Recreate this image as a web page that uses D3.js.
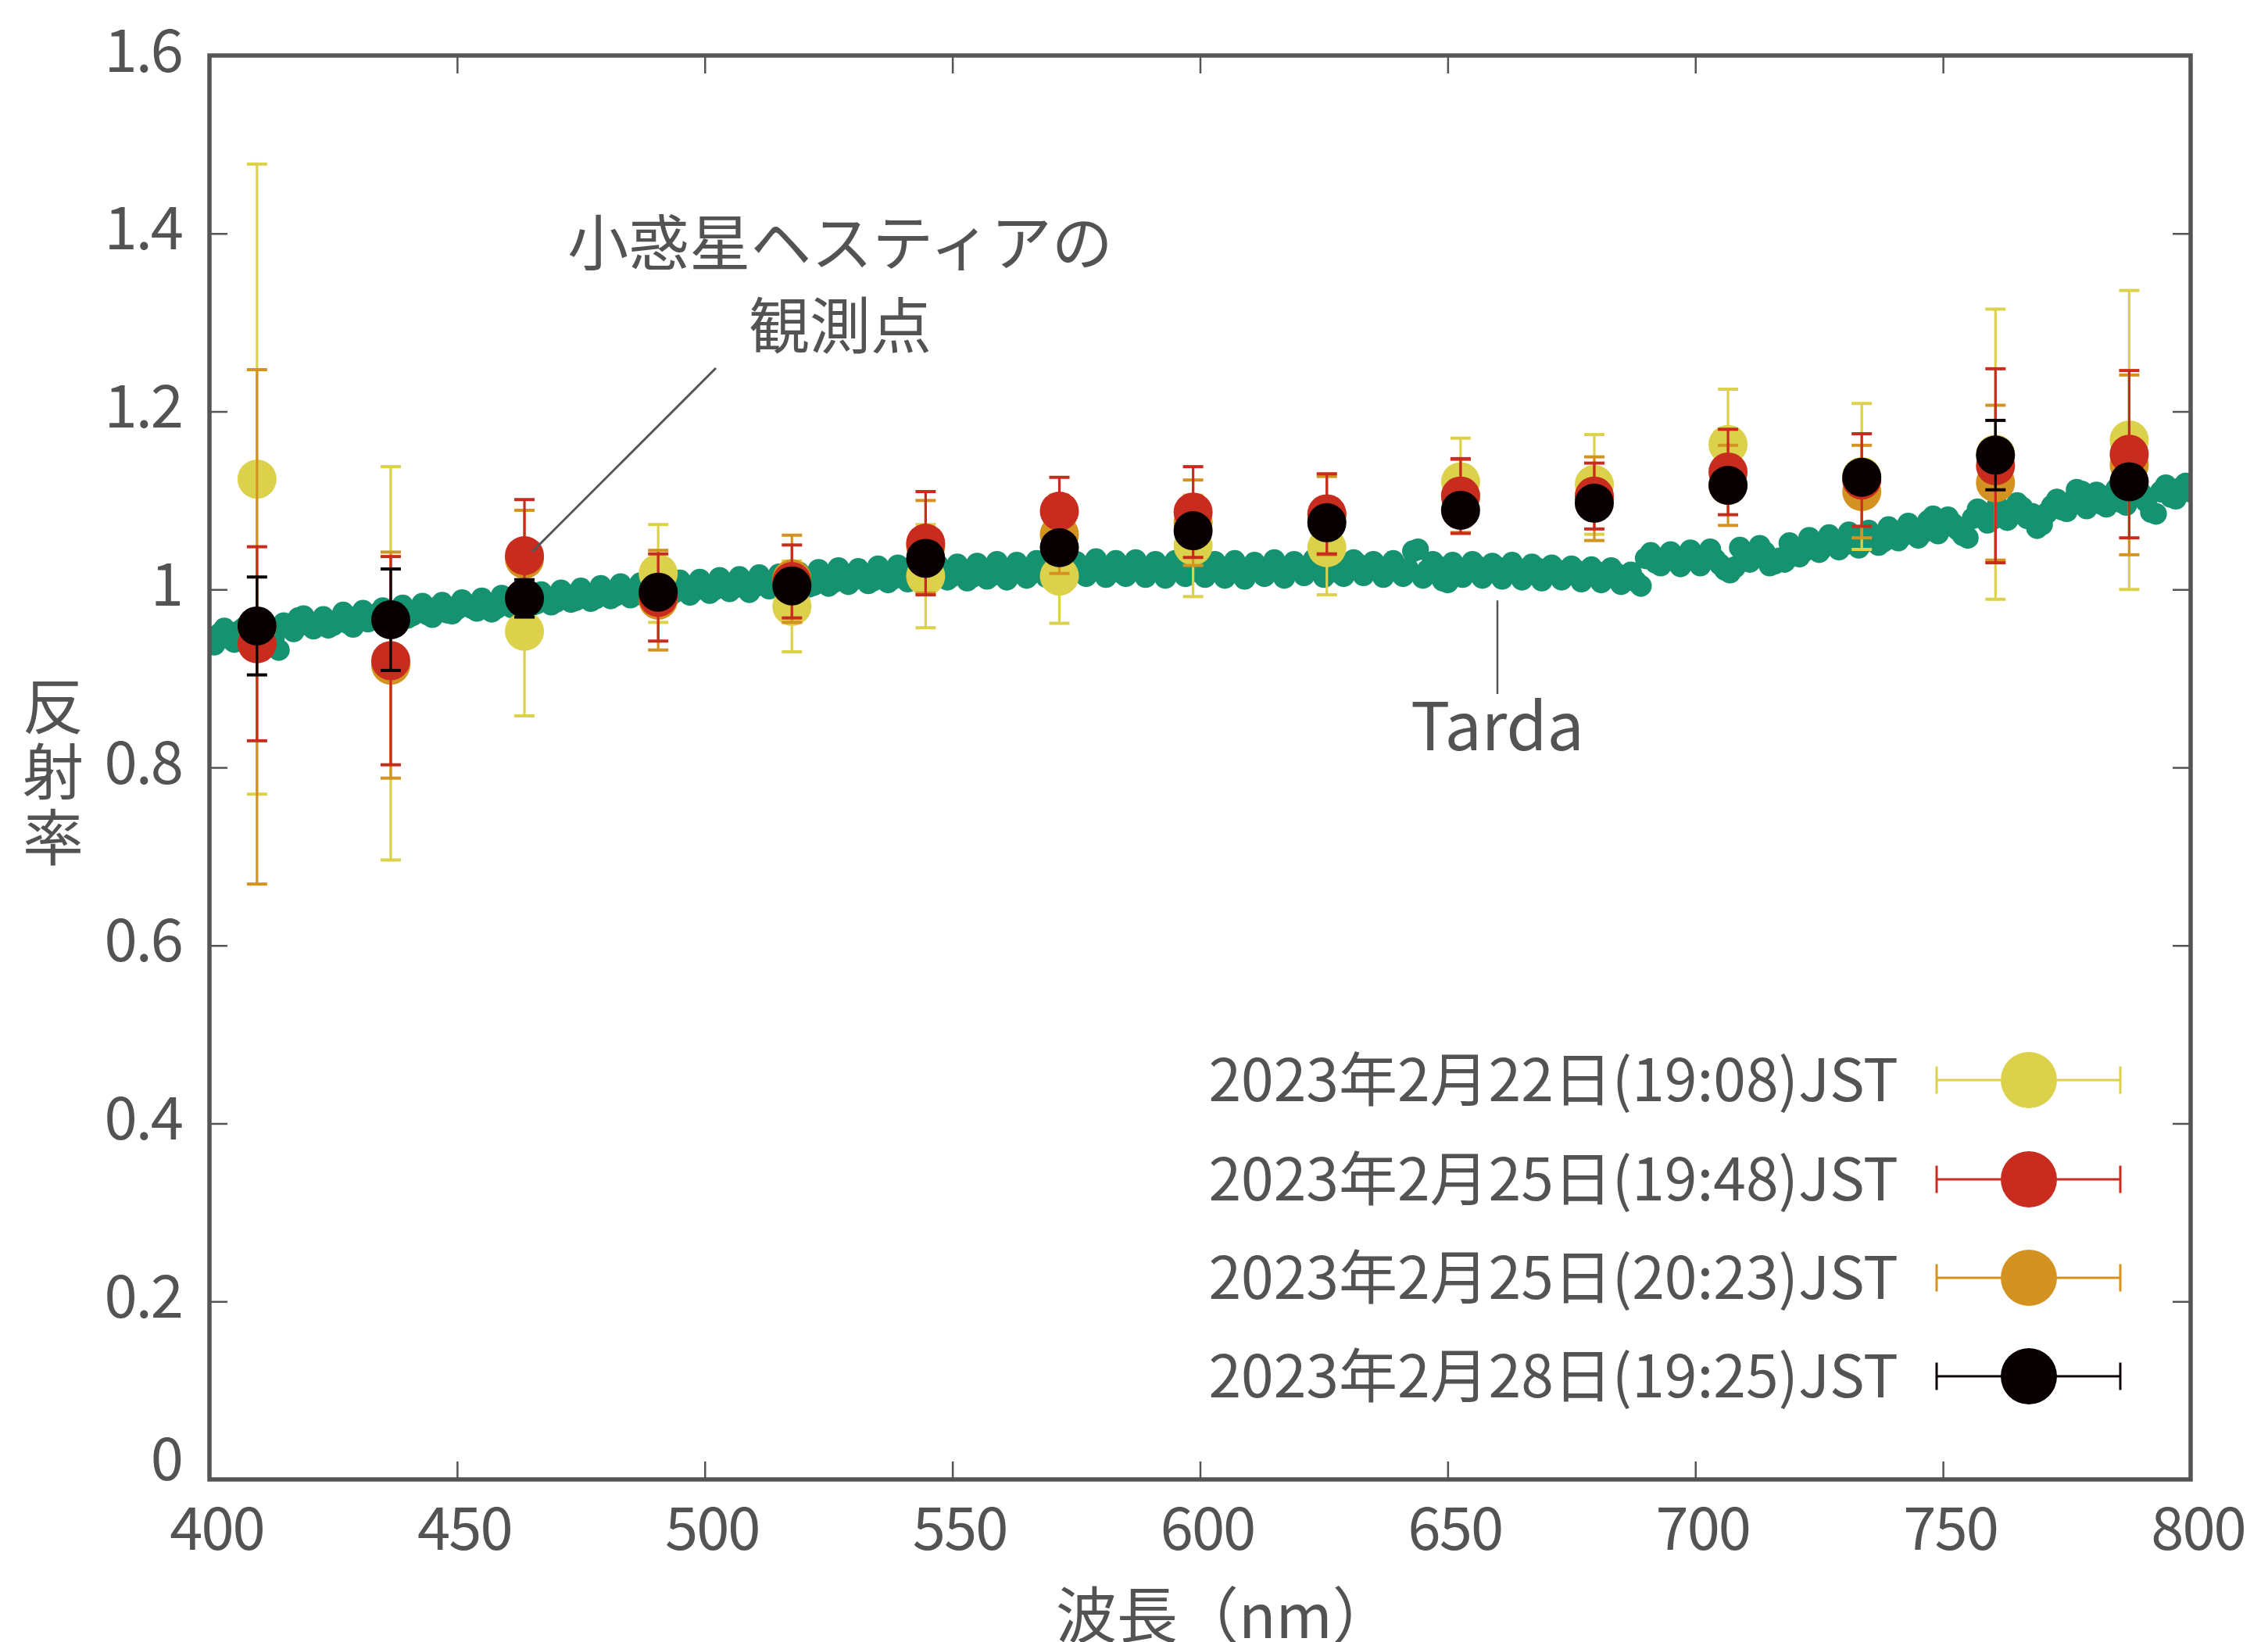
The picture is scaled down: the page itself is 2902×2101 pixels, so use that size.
<!DOCTYPE html>
<html><head><meta charset="utf-8">
<script src="https://cdn.jsdelivr.net/npm/d3@7"></script>
<style>
html,body{margin:0;padding:0;background:#fff;}
svg text{font-family:"Noto Sans CJK JP","Noto Sans",sans-serif;fill:#535353;}
</style></head>
<body><svg id="c" width="2902" height="2101"></svg>
<script>
// ---- data ----
const wavelengths = [409.6,436.6,463.6,490.6,517.6,544.6,571.6,598.6,625.6,652.6,679.6,706.6,733.6,760.6,787.6];
const seriesLabels = ["2023年2月22日(19:08)JST","2023年2月25日(19:48)JST","2023年2月25日(20:23)JST","2023年2月28日(19:25)JST"];
const seriesColors = ["#dcd14a","#c82c1e","#d49320","#080000"];
const vals0222 = [1.124,0.917,0.953,1.018,0.981,1.015,1.015,1.049,1.047,1.121,1.118,1.163,1.127,1.152,1.168];
const err0222  = [0.354,0.221,0.095,0.055,0.051,0.058,0.053,0.057,0.053,0.049,0.056,0.062,0.082,0.163,0.168];
const vals0225a = [0.939,0.920,1.038,0.991,1.009,1.052,1.088,1.087,1.085,1.105,1.105,1.132,1.123,1.139,1.152];
const err0225a  = [0.109,0.117,0.063,0.049,0.041,0.058,0.038,0.051,0.045,0.042,0.037,0.048,0.052,0.109,0.094];
const vals0225b = [0.958,0.915,1.034,0.988,1.012,1.048,1.062,1.075,1.083,1.105,1.102,1.117,1.110,1.120,1.140];
const err0225b  = [0.289,0.127,0.055,0.056,0.049,0.052,0.044,0.048,0.044,0.041,0.047,0.045,0.052,0.087,0.101];
const vals0228 = [0.959,0.966,0.990,0.997,1.004,1.035,1.047,1.066,1.075,1.089,1.097,1.117,1.126,1.151,1.121];
const err0228  = [0.055,0.057,0.021,0.015,0.015,0.015,0.015,0.015,0.015,0.015,0.015,0.015,0.015,0.039,0.015];
// Tarda reference spectrum: even wavelengths 400..800 nm
const tardaEvenStart = 400, tardaStep = 2;
const tardaEven = [
0.942,0.950,0.945,0.953,0.948,0.955,0.951,0.932,0.958,0.968,0.960,0.963,0.957,0.966,0.962,0.970,0.964,0.973,0.969,0.975,0.968,0.977,0.972,0.980,0.974,0.978,
0.983,0.976,0.985,0.979,0.987,0.982,0.989,0.984,0.991,0.986,0.994,0.988,0.995,0.990,0.997,0.993,1.000,0.994,0.999,0.996,1.003,0.997,1.002,0.999,1.005,
1.000,1.007,1.002,1.008,1.003,1.009,1.004,1.010,1.006,1.011,1.005,1.014,1.008,1.017,1.011,1.016,1.010,1.018,1.012,1.019,1.013,1.018,1.014,1.020,1.015,
1.021,1.014,1.019,1.016,1.022,1.017,1.023,1.018,1.021,1.025,1.019,1.024,1.020,1.027,1.021,1.025,1.019,1.026,1.022,1.024,1.020,1.026,1.021,1.023,1.019,
1.024,1.020,1.025,1.018,1.023,1.021,1.026,1.020,1.025,1.022,1.027,1.021,1.025,1.019,1.024,1.028,1.022,1.026,1.021,1.025,1.023,1.045,1.022,1.026,1.008,
1.024,1.020,1.026,1.022,1.025,1.019,1.023,1.020,1.024,1.018,1.022,1.017,1.021,1.016,1.020,1.015,1.018,1.012,1.009,1.035,1.030,1.036,1.032,1.038,1.033,
1.037,1.034,1.022,1.025,1.040,1.036,1.042,1.029,1.031,1.046,1.043,1.052,1.048,1.055,1.050,1.057,1.053,1.060,1.054,1.066,1.061,1.068,1.064,1.082,1.070,
1.074,1.061,1.080,1.086,1.079,1.088,1.084,1.092,1.085,1.073,1.094,1.090,1.099,1.110,1.101,1.096,1.106,1.098,1.104,1.108,1.087,1.110,1.104,1.114,1.110
];
// Tarda reference spectrum: odd wavelengths 401..799 nm
const tardaOddStart = 401;
const tardaOdd = [
0.938,0.956,0.941,0.957,0.944,0.960,0.946,0.962,0.953,0.970,0.956,0.969,0.960,0.974,0.958,0.976,0.966,0.979,0.964,0.982,0.971,0.984,0.969,0.985,0.973,
0.988,0.979,0.990,0.975,0.993,0.980,0.995,0.982,0.997,0.983,0.999,0.986,1.001,0.987,1.004,0.990,1.006,0.991,1.007,0.990,1.009,0.993,1.010,0.994,1.011,
0.996,1.013,0.998,1.014,0.997,1.016,1.001,1.017,1.000,1.019,1.003,1.022,1.004,1.024,1.006,1.023,1.007,1.026,1.008,1.027,1.009,1.026,1.010,1.028,1.011,
1.028,1.010,1.029,1.012,1.031,1.011,1.030,1.013,1.032,1.014,1.033,1.012,1.031,1.015,1.034,1.014,1.032,1.015,1.033,1.014,1.031,1.013,1.032,1.015,1.030,
1.014,1.031,1.013,1.032,1.012,1.030,1.015,1.033,1.013,1.031,1.016,1.034,1.014,1.032,1.015,1.033,1.016,1.031,1.014,1.032,1.015,1.043,1.013,1.031,1.010,
1.030,1.014,1.031,1.013,1.029,1.012,1.030,1.011,1.028,1.010,1.027,1.011,1.026,1.009,1.025,1.008,1.024,1.006,1.019,1.004,1.041,1.027,1.042,1.026,1.044,
1.027,1.045,1.028,1.019,1.047,1.031,1.049,1.027,1.035,1.052,1.037,1.058,1.042,1.061,1.045,1.064,1.047,1.066,1.050,1.070,1.055,1.074,1.058,1.077,1.063,
1.081,1.067,1.058,1.090,1.075,1.094,1.078,1.097,1.080,1.069,1.086,1.101,1.088,1.112,1.091,1.109,1.093,1.113,1.095,1.116,1.099,1.085,1.117,1.102,1.119
];
const xTicks = [400,450,500,550,600,650,700,750,800];
const yTicks = [0,0.2,0.4,0.6,0.8,1,1.2,1.4,1.6];
const xTitle = "波長（nm）";
const yTitle = ["反","射","率"];
const noteHestia = ["小惑星ヘスティアの","観測点"];
const noteTarda = "Tarda";

// ---- layout ----
const svg = d3.select("#c");
const L=268,R=2803,T=71,B=1893;
const x = d3.scaleLinear().domain([400,800]).range([L,R]);
const y = d3.scaleLinear().domain([0,1.6]).range([B,T]);
const axisColor = "#555555";
const fs = 76;

svg.append("defs").append("clipPath").attr("id","plotclip")
  .append("rect").attr("x",L).attr("y",T).attr("width",R-L).attr("height",B-T);

// Tarda
const tarda = tardaEven.map((v,i)=>({w: tardaEvenStart + i*tardaStep, v}))
  .concat(tardaOdd.map((v,i)=>({w: tardaOddStart + i*tardaStep, v})))
  .sort((a,b)=>a.w-b.w);
svg.append("g").attr("clip-path","url(#plotclip)")
  .selectAll("circle").data(tarda).join("circle")
  .attr("cx",d=>x(d.w)).attr("cy",d=>y(d.v)).attr("r",14).attr("fill","#15926f");

// Tarda leader
svg.append("line").attr("x1",1916).attr("x2",1916).attr("y1",y(1.0)+14).attr("y2",888)
  .attr("stroke",axisColor).attr("stroke-width",2.5);
svg.append("text").attr("x",1916).attr("y",960).attr("text-anchor","middle")
  .style("font-size","84px").text(noteTarda);

// series (drawing order: 2/22, 2/25 20:23, 2/25 19:48, 2/28)
const series = [
  {vals: vals0222, err: err0222, color: seriesColors[0]},
  {vals: vals0225b, err: err0225b, color: seriesColors[2]},
  {vals: vals0225a, err: err0225a, color: seriesColors[1]},
  {vals: vals0228, err: err0228, color: seriesColors[3]}
];
const capW = 13, mr = 25;
series.forEach(s=>{
  const pts = wavelengths.map((w,i)=>({w, v:s.vals[i], e:s.err[i]}));
  const g = svg.append("g");
  g.selectAll("line.v").data(pts).join("line").attr("class","v")
    .attr("x1",d=>x(d.w)).attr("x2",d=>x(d.w)).attr("y1",d=>y(d.v+d.e)).attr("y2",d=>y(d.v-d.e))
    .attr("stroke",s.color).attr("stroke-width",3.2);
  ["t","b"].forEach(sg=>{
    g.selectAll("line.c"+sg).data(pts).join("line").attr("class","c"+sg)
      .attr("x1",d=>x(d.w)-capW).attr("x2",d=>x(d.w)+capW)
      .attr("y1",d=>y(sg==="t"?d.v+d.e:d.v-d.e)).attr("y2",d=>y(sg==="t"?d.v+d.e:d.v-d.e))
      .attr("stroke",s.color).attr("stroke-width",4);
  });
  g.selectAll("circle").data(pts).join("circle")
    .attr("cx",d=>x(d.w)).attr("cy",d=>y(d.v)).attr("r",mr).attr("fill",s.color);
});

// Hestia annotation
svg.append("line").attr("x1",916).attr("y1",471).attr("x2",681).attr("y2",706)
  .attr("stroke",axisColor).attr("stroke-width",3);
svg.selectAll("text.note").data(noteHestia).join("text").attr("class","note")
  .attr("x",1075).attr("y",(d,i)=>306+i*106).attr("dominant-baseline","central")
  .attr("text-anchor","middle").style("font-size","78px").text(d=>d);

// axes
const fmt = d3.format("~g");
const gx = svg.append("g").attr("transform",`translate(0,${B})`)
  .call(d3.axisBottom(x).tickValues(xTicks).tickSize(-23).tickFormat(fmt));
gx.selectAll("text").attr("y",90).attr("dy",0).attr("dx",9).style("font-size",fs+"px").style("letter-spacing","-2px");
const gxt = svg.append("g").attr("transform",`translate(0,${T})`)
  .call(d3.axisTop(x).tickValues(xTicks).tickSize(-23).tickFormat(""));
const gy = svg.append("g").attr("transform",`translate(${L},0)`)
  .call(d3.axisLeft(y).tickValues(yTicks).tickSize(-23).tickFormat(fmt));
gy.selectAll("text").attr("x",-35).attr("dy",0).attr("y",d=>d===0?0:20).style("font-size",fs+"px").style("letter-spacing","-2px");
const gyr = svg.append("g").attr("transform",`translate(${R},0)`)
  .call(d3.axisRight(y).tickValues(yTicks).tickSize(-23).tickFormat(""));
[gx,gxt,gy,gyr].forEach(g=>{
  g.select(".domain").remove();
  g.selectAll(".tick line").attr("stroke",axisColor).attr("stroke-width",2.5);
  g.selectAll("text").attr("fill","#535353").style("font-family",'"Noto Sans CJK JP",sans-serif');
});
svg.append("rect").attr("x",L).attr("y",T).attr("width",R-L).attr("height",B-T)
  .attr("fill","none").attr("stroke",axisColor).attr("stroke-width",5.5);

// axis titles
svg.append("text").attr("x",1351).attr("y",2062).attr("dominant-baseline","central")
  .style("font-size","78px").text(xTitle);
svg.selectAll("text.yt").data(yTitle).join("text").attr("class","yt")
  .attr("x",68).attr("y",(d,i)=>899+i*84).attr("dominant-baseline","central")
  .attr("text-anchor","middle").style("font-size","78px").text(d=>d);

// legend
const legRows = [1382,1509,1635,1761];
const lg = svg.append("g");
seriesLabels.forEach((lab,i)=>{
  const cy = legRows[i], col = seriesColors[i];
  lg.append("text").attr("x",2429).attr("y",cy+27).attr("text-anchor","end")
    .style("font-size","75px").text(lab);
  lg.append("line").attr("x1",2478).attr("x2",2713).attr("y1",cy).attr("y2",cy).attr("stroke",col).attr("stroke-width",3.2);
  [2478,2713].forEach(ex=>lg.append("line").attr("x1",ex).attr("x2",ex).attr("y1",cy-17.5).attr("y2",cy+17.5).attr("stroke",col).attr("stroke-width",3));
  lg.append("circle").attr("cx",2596).attr("cy",cy).attr("r",36).attr("fill",col);
});
</script></body></html>
